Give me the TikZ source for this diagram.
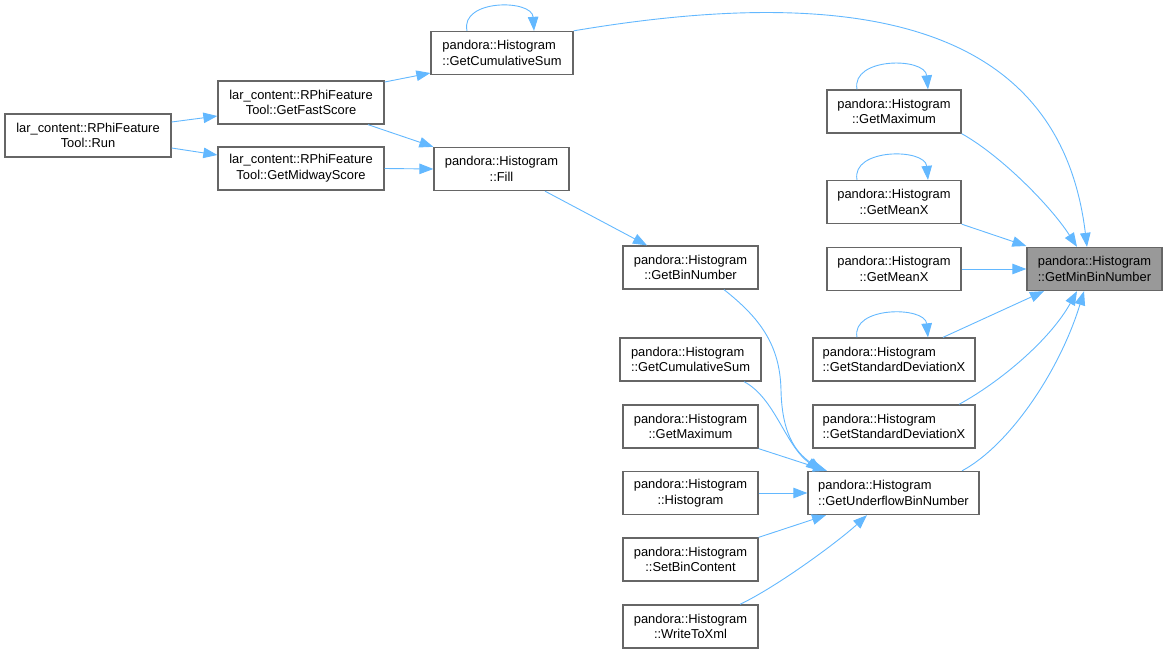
\documentclass[tikz,border=0pt]{standalone}
\usepackage{fontspec}
\setmainfont{Liberation Sans}
\usetikzlibrary{arrows.meta}
\definecolor{edgec}{HTML}{63B8FF}
\definecolor{bordc}{HTML}{666666}
\definecolor{hlfill}{HTML}{999999}
\begin{document}
\begin{tikzpicture}[x=1pt,y=-1pt,
  box/.style={draw=bordc,fill=white,line width=1.3pt,inner sep=0pt,minimum height=43pt,
    font=\fontsize{12.9}{15.7}\selectfont,align=center},
  boxl/.style={box,align=left},
  edge/.style={draw=edgec,line width=0.9pt,-{Triangle[length=14pt,width=10.5pt]}}]
\useasboundingbox (0,0) rectangle (1168,653);
% nodes
\node[box,minimum width=166pt] (run) at (88,135.5) {lar\_content::RPhiFeature\\Tool::Run};
\node[box,minimum width=166pt] (fast) at (301,102.5) {lar\_content::RPhiFeature\\Tool::GetFastScore};
\node[box,minimum width=166pt] (mid) at (301,168.5) {lar\_content::RPhiFeature\\Tool::GetMidwayScore};
\node[boxl,minimum width=142pt] (cum1) at (502,53) {pandora::Histogram\\::GetCumulativeSum};
\node[box,minimum width=135pt] (fill) at (501.5,169) {pandora::Histogram\\::Fill};
\node[box,minimum width=134pt] (max1) at (894,111.5) {pandora::Histogram\\::GetMaximum};
\node[box,minimum width=134pt] (mean1) at (894,202) {pandora::Histogram\\::GetMeanX};
\node[box,minimum width=134pt] (mean2) at (894,269) {pandora::Histogram\\::GetMeanX};
\node[boxl,minimum width=135pt,fill=hlfill] (min) at (1094.5,269) {pandora::Histogram\\::GetMinBinNumber};
\node[box,minimum width=135pt] (binnum) at (690.5,267.5) {pandora::Histogram\\::GetBinNumber};
\node[boxl,minimum width=141pt] (cum2) at (690.5,359.5) {pandora::Histogram\\::GetCumulativeSum};
\node[box,minimum width=135pt] (max2) at (690.5,426.5) {pandora::Histogram\\::GetMaximum};
\node[box,minimum width=135pt] (hist) at (690.5,493) {pandora::Histogram\\::Histogram};
\node[box,minimum width=135pt] (setbin) at (690.5,559.5) {pandora::Histogram\\::SetBinContent};
\node[box,minimum width=135pt] (write) at (690.5,626.5) {pandora::Histogram\\::WriteToXml};
\node[boxl,minimum width=171pt] (under) at (893.5,493) {pandora::Histogram\\::GetUnderflowBinNumber};
\node[boxl,minimum width=162pt] (std1) at (894,359.5) {pandora::Histogram\\::GetStandardDeviationX};
\node[boxl,minimum width=162pt] (std2) at (894,426.5) {pandora::Histogram\\::GetStandardDeviationX};
% edges
\draw[edge] (run.east |- 0,122) -- (fast.west |- 0,116);
\draw[edge] (run.east |- 0,148) -- (mid.west |- 0,155);
\draw[edge] (fast.east |- 0,82) -- (cum1.west |- 0,73);
\draw[edge] (fast.south -| 368,0) -- (fill.north west);
\draw[edge] (mid.east) -- (fill.west);
\draw[edge] (cum1.north -| 467,0) .. controls (460,-1) and (532,-1) .. (cum1.north -| 534,0);
\draw[edge] (cum1.north east) .. controls (903,-25) and (1063,48) .. (min.north -| 1087,0);
\draw[edge] (max1.north -| 857,0) .. controls (851,57) and (925,57) .. (max1.north -| 928,0);
\draw[edge] (max1.south east) .. controls (1000,155) and (1050,205) .. (min.north -| 1077,0);
\draw[edge] (mean1.north -| 857,0) .. controls (851,148) and (925,148) .. (mean1.north -| 928,0);
\draw[edge] (mean1.south east) -- (min.north west |- 0,246);
\draw[edge] (mean2.east) -- (min.west);
\draw[edge] (std1.north -| 857,0) .. controls (851,306) and (925,306) .. (std1.north -| 928,0);
\draw[edge] (std1.north -| 943,0) -- (min.south -| 1044,0);
\draw[edge] (std2.north -| 959,0) .. controls (1000,382) and (1050,340) .. (min.south -| 1077,0);
\draw[edge] (under.north -| 962,0) .. controls (1010,445) and (1060,370) .. (min.south -| 1084,0);
\draw[edge] (fill.south -| 545,0) -- (binnum.north -| 647,0);
\draw[edge] (binnum.south -| 724,0) .. controls (760,318) and (780,345) .. (781,390) .. controls (782,440) and (800,455) .. (under.north -| 822,0);
\draw[edge] (cum2.south -| 744,0) .. controls (775,398) and (785,445) .. (under.north -| 820,0);
\draw[edge] (max2.south east) -- (under.north -| 827,0);
\draw[edge] (hist.east) -- (under.west);
\draw[edge] (setbin.north east) -- (under.south -| 826,0);
\draw[edge] (write.north -| 740,0) .. controls (780,585) and (840,540) .. (under.south -| 867,0);
\end{tikzpicture}
\end{document}
